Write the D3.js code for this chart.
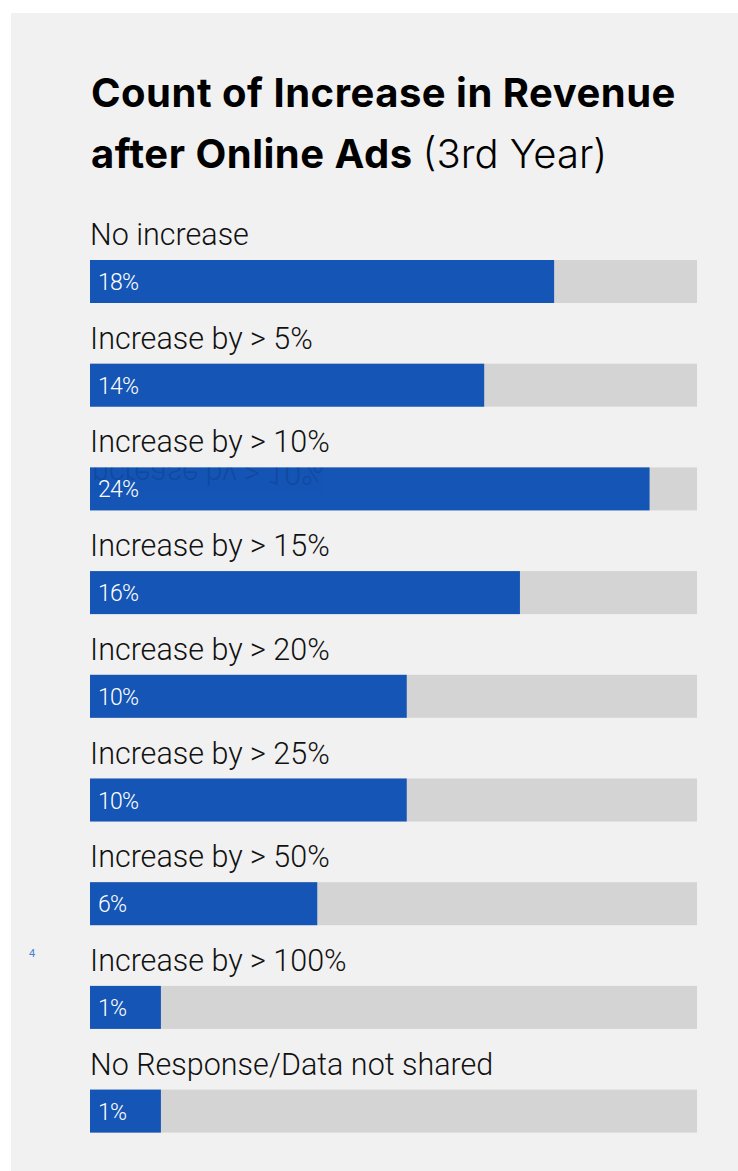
<!DOCTYPE html>
<html>
<head>
<meta charset="utf-8">
<script src="https://cdn.jsdelivr.net/npm/d3@7"></script>
<style>
  html, body { margin: 0; padding: 0; background: #ffffff; }
  svg { display: block; }
</style>
</head>
<body>
<div id="chart"></div>
<script>
// Survey answers: share of businesses by revenue increase in the third year of online ads
const categories = [
  "No increase",
  "Increase by > 5%",
  "Increase by > 10%",
  "Increase by > 15%",
  "Increase by > 20%",
  "Increase by > 25%",
  "Increase by > 50%",
  "Increase by > 100%",
  "No Response/Data not shared"
];
const values = [18, 14, 24, 16, 10, 10, 6, 1, 1];
const valueLabels = ["18%", "14%", "24%", "16%", "10%", "10%", "6%", "1%", "1%"];
const titleBold = ["Count of Increase in Revenue", "after Online Ads"];
const titleLight = "(3rd Year)";
const pageMarker = "4";

const W = 738, H = 1171;
const panel = { x: 11, y: 13 };
const left = 90, right = 697;
const trackW = right - left;
const barH = 43;
const labelFont = { family: "Roboto, sans-serif", weight: 300, size: 30.5 };

const svg = d3.select("#chart").append("svg")
  .attr("width", W).attr("height", H);

svg.append("rect")
  .attr("x", panel.x).attr("y", panel.y)
  .attr("width", W - panel.x).attr("height", H - panel.y)
  .attr("fill", "#f1f1f1");

// Title
const title = svg.append("text")
  .attr("font-family", "Inter, Roboto, sans-serif")
  .attr("font-size", 40)
  .attr("fill", "#000");
title.append("tspan").attr("x", 91).attr("y", 107)
  .attr("font-weight", 700).attr("letter-spacing", 0.5).text(titleBold[0]);
const l2 = title.append("tspan").attr("x", 91).attr("y", 168);
l2.append("tspan").attr("font-weight", 700).attr("letter-spacing", 0.5).text(titleBold[1] + " ");
l2.append("tspan").attr("font-weight", 300).attr("letter-spacing", 0).text(titleLight);

// Row layout and bar length scale
const y = d3.scaleBand()
  .domain(categories)
  .range([197, 197 + 103.7 * categories.length]);

const x = d3.scalePow().exponent(0.65)
  .domain([0, 27.2])
  .range([0, trackW]);

const rows = svg.selectAll("g.row")
  .data(categories.map((c, i) => ({ c, v: values[i], lab: valueLabels[i], i })))
  .join("g")
  .attr("class", "row")
  .attr("transform", d => `translate(0,${y(d.c)})`);

// category label
rows.append("text")
  .attr("x", left)
  .attr("y", 48)
  .attr("font-family", labelFont.family)
  .attr("font-weight", labelFont.weight)
  .attr("font-size", labelFont.size)
  .attr("fill", "#111")
  .text(d => d.c);

// background track
rows.append("rect")
  .attr("x", left).attr("y", 63)
  .attr("width", trackW).attr("height", barH)
  .attr("fill", "#d4d4d4");

// value bar
rows.append("rect")
  .attr("x", left).attr("y", 63)
  .attr("width", d => x(d.v)).attr("height", barH)
  .attr("fill", "#1555b5");

// faint mirrored print-through at the top of the widest bar
const defs = svg.append("defs");
rows.filter(d => d.v === d3.max(values)).each(function (d) {
  const g = d3.select(this);
  defs.append("clipPath").attr("id", "clip-ghost")
    .append("rect").attr("x", left).attr("y", 63)
    .attr("width", x(d.v)).attr("height", barH);
  g.append("g").attr("clip-path", "url(#clip-ghost)")
    .append("text")
    .attr("transform", "translate(-6,107) scale(1,-1)")
    .attr("x", left).attr("y", 48)
    .attr("font-family", labelFont.family)
    .attr("font-weight", labelFont.weight)
    .attr("font-size", labelFont.size)
    .attr("fill", "#0a2a66")
    .attr("opacity", 0.25)
    .text(d.c);
});

// value label
rows.append("text")
  .attr("x", left + 8)
  .attr("y", 63 + 30)
  .attr("font-family", "Roboto, sans-serif")
  .attr("font-weight", 300)
  .attr("font-size", 23)
  .attr("letter-spacing", -0.8)
  .attr("fill", "#ffffff")
  .text(d => d.lab);

// page marker
svg.append("text")
  .attr("x", 29).attr("y", 957)
  .attr("font-family", "Roboto, sans-serif")
  .attr("font-size", 11)
  .attr("fill", "#4a7fd6")
  .text(pageMarker);
</script>
</body>
</html>
